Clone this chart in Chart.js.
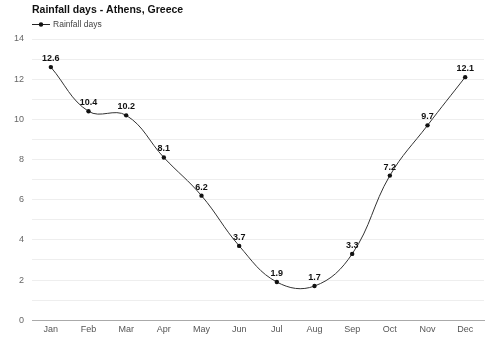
<!DOCTYPE html>
<html>
<head>
<meta charset="utf-8">
<script src="https://cdn.jsdelivr.net/npm/chart.js@4.4.0/dist/chart.umd.min.js"></script>
<style>
  html, body { margin: 0; padding: 0; background: #fff; }
  #wrap { width: 500px; height: 354px; }
</style>
</head>
<body>
<div id="wrap"><canvas id="rainChart"></canvas></div>
<script>
const months = ['Jan', 'Feb', 'Mar', 'Apr', 'May', 'Jun', 'Jul', 'Aug', 'Sep', 'Oct', 'Nov', 'Dec'];
const rainfallDays = [12.6, 10.4, 10.2, 8.1, 6.2, 3.7, 1.9, 1.7, 3.3, 7.2, 9.7, 12.1];
const chartTitle = 'Rainfall days - Athens, Greece';
const seriesName = 'Rainfall days';

const FONT = '"Liberation Sans", Arial, sans-serif';

// title + legend drawn at the left edge of the plot, value labels above points
const decorations = {
  id: 'decorations',
  afterDraw(chart) {
    const ctx = chart.ctx;
    const left = chart.chartArea.left;
    ctx.save();
    ctx.textBaseline = 'middle';
    ctx.textAlign = 'left';
    ctx.fillStyle = '#111';
    ctx.font = 'bold 10.5px ' + FONT;
    ctx.fillText(chartTitle, left, 10);

    // legend
    ctx.strokeStyle = '#222';
    ctx.lineWidth = 1;
    ctx.beginPath(); ctx.moveTo(left, 24.5); ctx.lineTo(left + 18, 24.5); ctx.stroke();
    ctx.fillStyle = '#111';
    ctx.beginPath(); ctx.arc(left + 9, 24.5, 2.2, 0, Math.PI * 2); ctx.fill();
    ctx.fillStyle = '#444';
    ctx.font = '8.5px ' + FONT;
    ctx.fillText(seriesName, left + 21, 24.5);

    // values
    const meta = chart.getDatasetMeta(0);
    ctx.font = 'bold 9px ' + FONT;
    ctx.fillStyle = '#111';
    ctx.textAlign = 'center';
    ctx.textBaseline = 'bottom';
    meta.data.forEach((pt, i) => {
      ctx.fillText(rainfallDays[i].toFixed(1), pt.x, pt.y - 4);
    });
    ctx.restore();
  }
};

const ctx = document.getElementById('rainChart').getContext('2d');
new Chart(ctx, {
  type: 'line',
  data: {
    labels: months,
    datasets: [{
      label: seriesName,
      data: rainfallDays,
      borderColor: '#333',
      borderWidth: 1,
      backgroundColor: '#111',
      pointRadius: 2.2,
      pointHoverRadius: 2.2,
      pointBorderWidth: 0,
      tension: 0.4,
      fill: false
    }]
  },
  options: {
    responsive: true,
    maintainAspectRatio: false,
    animation: false,
    layout: { padding: { left: 6, right: 16, top: 39, bottom: 15 } },
    scales: {
      x: {
        offset: true,
        grid: { display: false, drawTicks: false },
        border: { display: true, color: '#aaa' },
        ticks: { color: '#555', font: { size: 9, family: FONT }, padding: 4 }
      },
      y: {
        min: 0,
        max: 14,
        grid: { color: '#eeeeee', drawTicks: false },
        border: { display: false },
        ticks: {
          stepSize: 1,
          padding: 8,
          color: '#666',
          font: { size: 9, family: FONT },
          callback: v => (v % 2 === 0 ? v : '')
        }
      }
    },
    plugins: {
      title: { display: false },
      legend: { display: false },
      tooltip: { enabled: false }
    }
  },
  plugins: [decorations]
});
</script>
</body>
</html>
